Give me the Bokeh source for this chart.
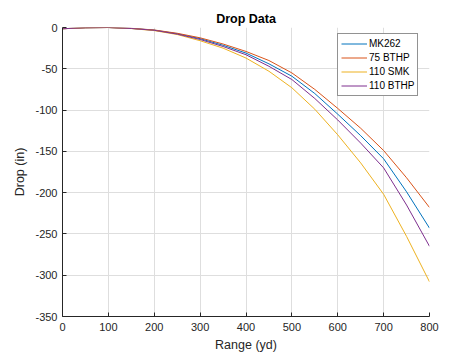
from bokeh.plotting import figure
from bokeh.models import Range1d, FixedTicker, Legend, LegendItem
from bokeh.embed import file_html
from bokeh.resources import INLINE

# Data
range_yd = [0, 50, 100, 150, 200, 250, 300, 350, 400, 450, 500, 550, 600, 650, 700, 750, 800]
mk262    = [-1.5, -0.3, 0, -1.1, -3.2, -7.5, -13.5, -21.5, -31, -44, -59, -80, -105, -131, -159, -199, -243]
bthp75   = [-1.5, -0.3, 0, -1.0, -3.0, -7.0, -12.5, -20, -29, -40, -55, -75, -98, -122, -149, -182, -218]
smk110   = [-1.5, -0.3, 0, -1.3, -3.8, -8.5, -16, -25, -37, -53, -73, -99, -130, -164, -202, -253, -308]
bthp110  = [-1.5, -0.3, 0, -1.2, -3.4, -8.0, -14.5, -23, -33, -47, -63, -86, -112, -140, -170, -215, -265]

series_names = ["MK262", "75 BTHP", "110 SMK", "110 BTHP"]
x_ticks = [0, 100, 200, 300, 400, 500, 600, 700, 800]
y_ticks = [0, -50, -100, -150, -200, -250, -300, -350]

colors = ["#0072BD", "#D95319", "#EDB120", "#7E2F8E"]
FONT = "Liberation Sans"
TXT = "#262626"

p = figure(width=474, height=355, output_backend="svg", toolbar_location=None,
           x_range=Range1d(0, 800), y_range=Range1d(-350, 0),
           min_border_left=62, min_border_right=45, min_border_top=27, min_border_bottom=39)

p.title.text = "Drop Data"
p.title.align = "center"
p.title.text_font = FONT
p.title.text_font_size = "12.5px"
p.title.text_font_style = "bold"
p.title.text_color = "#000000"
p.title.offset = 0
p.title.standoff = 4

p.outline_line_color = None
p.background_fill_color = "white"
p.border_fill_color = "white"

for ax in (p.xaxis[0], p.yaxis[0]):
    ax.axis_line_color = TXT
    ax.axis_line_width = 1
    ax.major_tick_in = 4
    ax.major_tick_out = 0
    ax.minor_tick_in = 0
    ax.minor_tick_out = 0
    ax.major_tick_line_color = TXT
    ax.major_label_text_font = FONT
    ax.major_label_text_font_size = "11px"
    ax.major_label_text_color = TXT
    ax.axis_label_text_font = FONT
    ax.axis_label_text_font_size = "12.5px"
    ax.axis_label_text_font_style = "normal"
    ax.axis_label_text_color = TXT

p.xaxis.ticker = FixedTicker(ticks=x_ticks)
p.yaxis.ticker = FixedTicker(ticks=y_ticks)
p.xaxis.major_label_overrides = {t: str(t) for t in x_ticks}
p.yaxis.major_label_overrides = {t: str(t) for t in y_ticks}
p.xaxis.axis_label = "Range (yd)"
p.yaxis.axis_label = "Drop (in)"
p.xaxis.major_label_standoff = 6
p.xaxis.axis_label_standoff = 4
p.yaxis.major_label_standoff = 5
p.yaxis.axis_label_standoff = 5

p.xgrid.ticker = FixedTicker(ticks=x_ticks)
p.ygrid.ticker = FixedTicker(ticks=y_ticks)
p.grid.grid_line_color = "#dedede"
p.grid.grid_line_width = 1

renderers = []
for ys, c in zip([mk262, bthp75, smk110, bthp110], colors):
    r = p.line(range_yd, ys, line_color=c, line_width=1.0)
    renderers.append(r)

legend = Legend(items=[LegendItem(label=n, renderers=[r]) for n, r in zip(series_names, renderers)],
                location=(275, 220))
legend.label_text_font = FONT
legend.label_text_font_size = "10px"
legend.label_text_color = "#000000"
legend.glyph_width = 26
legend.glyph_height = 13
legend.label_height = 13
legend.label_standoff = 2
legend.spacing = 1
legend.padding = 3
legend.margin = 0
legend.border_line_color = TXT
legend.border_line_width = 1
legend.background_fill_color = "white"
legend.background_fill_alpha = 1.0
p.add_layout(legend, "center")

open("out.html", "w").write(file_html(p, INLINE))
